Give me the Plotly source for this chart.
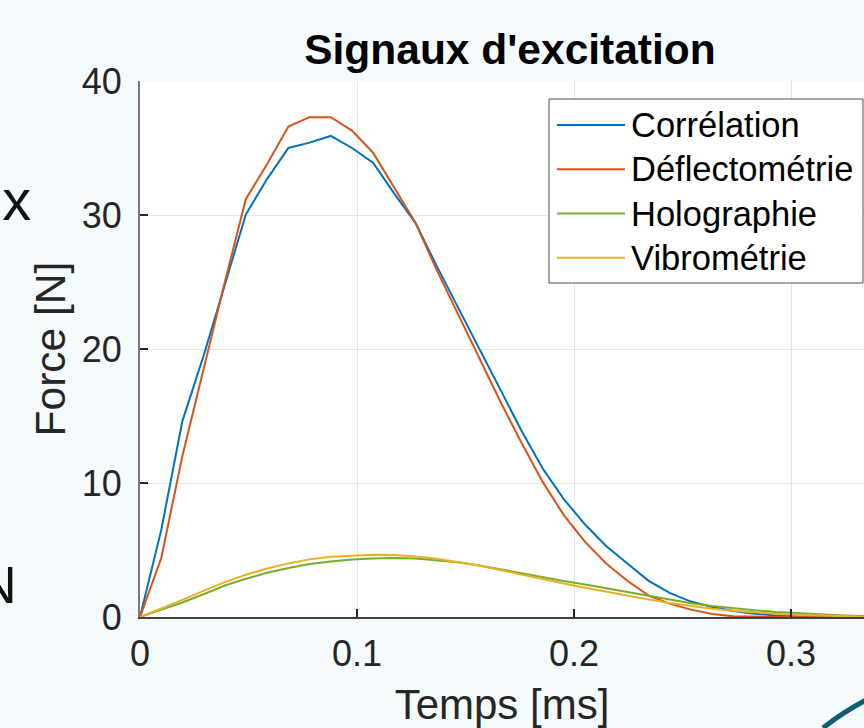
import plotly.graph_objects as go

# Time samples [ms]
temps = [0, 0.0098, 0.0195, 0.0293, 0.0391, 0.0488, 0.0586, 0.0684, 0.0781, 0.0879,
         0.0977, 0.1074, 0.1172, 0.1270, 0.1367, 0.1465, 0.1563, 0.1660, 0.1758, 0.1855,
         0.1953, 0.2051, 0.2148, 0.2246, 0.2344, 0.2441, 0.2539, 0.2637, 0.2734, 0.2832,
         0.2930, 0.3027, 0.3125, 0.3223, 0.3320, 0.3418]

correlation = [0, 6.5, 14.6, 19.5, 24.8, 30.05, 32.7, 35.0, 35.4, 35.9,
               35.0, 33.9, 31.6, 29.4, 26.2, 23.1, 20.0, 16.9, 13.9, 11.1,
               8.8, 6.9, 5.3, 4.0, 2.7, 1.8, 1.15, 0.75, 0.45, 0.25,
               0.12, 0.06, 0.03, 0.01, 0.0, 0.0]

deflectometrie = [0, 4.4, 12.0, 18.5, 25.0, 31.2, 33.8, 36.6, 37.3, 37.3,
                  36.3, 34.65, 32.0, 29.4, 25.9, 22.6, 19.3, 16.1, 13.0, 10.1,
                  7.6, 5.6, 4.0, 2.7, 1.6, 1.0, 0.55, 0.22, 0.05, 0.0,
                  0.0, 0.0, 0.0, 0.0, 0.0, 0.0]

holographie = [0, 0.52, 1.08, 1.7, 2.35, 2.85, 3.3, 3.65, 3.95, 4.15,
               4.3, 4.37, 4.4, 4.37, 4.25, 4.08, 3.85, 3.55, 3.25, 2.95,
               2.68, 2.42, 2.15, 1.85, 1.55, 1.28, 1.02, 0.82, 0.65, 0.5,
               0.38, 0.28, 0.2, 0.13, 0.08, 0.05]

vibrometrie = [0, 0.62, 1.28, 1.95, 2.6, 3.15, 3.62, 4.0, 4.3, 4.5,
               4.6, 4.65, 4.62, 4.52, 4.35, 4.12, 3.85, 3.5, 3.15, 2.8,
               2.5, 2.18, 1.88, 1.58, 1.3, 1.05, 0.82, 0.62, 0.46, 0.34,
               0.24, 0.16, 0.1, 0.06, 0.03, 0.01]

series_names = ["Corrélation", "Déflectométrie", "Holographie", "Vibrométrie"]
series_values = [correlation, deflectometrie, holographie, vibrometrie]
series_colors = ["#0072BD", "#D95319", "#77AC30", "#EDB120"]

x_tickvals = [0, 0.1, 0.2, 0.3]
x_ticktext = ["0", "0.1", "0.2", "0.3"]
y_tickvals = [0, 10, 20, 30, 40]
y_ticktext = ["0", "10", "20", "30", "40"]

FONT = "Liberation Sans, Arial, Helvetica, sans-serif"

fig = go.Figure()
for name, vals, col in zip(series_names, series_values, series_colors):
    fig.add_trace(go.Scatter(x=temps, y=vals, mode="lines", name=name,
                             line=dict(color=col, width=2), cliponaxis=True,
                             showlegend=False))

fig.update_layout(
    width=864, height=728,
    margin=dict(l=140, r=0, t=81, b=111),
    paper_bgcolor="#f5fbfd",
    plot_bgcolor="#ffffff",
    font=dict(family=FONT, color="#262626"),
    title=dict(text="<b>Signaux d'excitation</b>", x=0.511, xref="paper", xanchor="center",
               y=0.932, yanchor="middle", font=dict(size=42.5, color="#000000", family=FONT)),
    showlegend=False,
    xaxis=dict(range=[0, 0.33364], tickvals=x_tickvals, ticktext=x_ticktext,
               ticks="inside", ticklen=8, tickcolor="#262626", tickwidth=2,
               showline=True, linecolor="#404040", linewidth=2,
               showgrid=True, gridcolor="#e6e6e6", gridwidth=1, zeroline=False,
               tickfont=dict(size=36, color="#262626"), ticklabelstandoff=4,
               title=dict(text="Temps [ms]", font=dict(size=42, color="#262626"), standoff=25)),
    yaxis=dict(range=[0, 40], tickvals=y_tickvals, ticktext=y_ticktext,
               ticks="inside", ticklen=8, tickcolor="#262626", tickwidth=2,
               showline=True, linecolor="#7a7a7a", linewidth=2,
               showgrid=True, gridcolor="#e6e6e6", gridwidth=1, zeroline=False,
               tickfont=dict(size=36, color="#262626"), ticklabelstandoff=9,
               title=dict(text="Force [N]", font=dict(size=42.5, color="#262626"), standoff=3)),
)

# Legend box (drawn in paper coordinates, MATLAB style)
LEG_X0, LEG_X1, LEG_Y0, LEG_Y1 = 0.5649, 0.9986, 0.6231, 0.9664
LINE_X0, LINE_X1, TEXT_X = 0.5760, 0.6699, 0.6755
ROW_TOP, ROW_STEP = 0.9179, 0.0826
fig.add_shape(type="rect", xref="paper", yref="paper",
              x0=LEG_X0, x1=LEG_X1, y0=LEG_Y0, y1=LEG_Y1,
              line=dict(color="#505050", width=1), fillcolor="#ffffff", layer="above")
for i, (name, col) in enumerate(zip(series_names, series_colors)):
    yy = ROW_TOP - i * ROW_STEP
    fig.add_shape(type="line", xref="paper", yref="paper",
                  x0=LINE_X0, x1=LINE_X1, y0=yy, y1=yy,
                  line=dict(color=col, width=2), layer="above")
    fig.add_annotation(text=name, xref="paper", yref="paper", x=TEXT_X, y=yy,
                       xanchor="left", yanchor="middle", showarrow=False,
                       font=dict(size=34.5, color="#000000", family=FONT))

# Fragments of the slide behind the figure
fig.add_annotation(text="ux", xref="paper", yref="paper", x=-0.1478, y=0.778,
                   xanchor="right", yanchor="middle", showarrow=False,
                   font=dict(size=58, color="#111111", family=FONT))
fig.add_annotation(text="N", xref="paper", yref="paper", x=-0.1671, y=0.0597,
                   xanchor="right", yanchor="middle", showarrow=False,
                   font=dict(size=52, color="#111111", family=FONT))
fig.add_shape(type="path", xref="paper", yref="paper",
              path="M 0.9434 -0.2071 Q 0.9710 -0.1772 1.0028 -0.1549",
              line=dict(color="#0e5f73", width=5), layer="above")

fig.write_html(
    "out.html",
    config={"displayModeBar": False},
    post_script=("document.documentElement.style.margin='0';"
                 "document.body.style.margin='0';document.body.style.padding='0';"
                 "document.documentElement.style.overflow='hidden';"
                 "document.body.style.overflow='hidden';"),
)
